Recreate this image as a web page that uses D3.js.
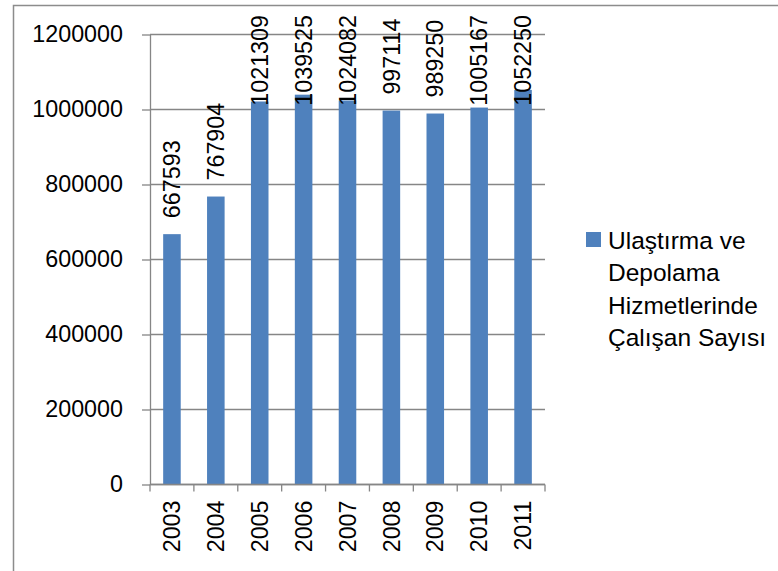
<!DOCTYPE html>
<html>
<head>
<meta charset="utf-8">
<script src="https://cdn.jsdelivr.net/npm/d3@7"></script>
<style>
  body { margin: 0; background: #fff; }
  svg text { font-family: 'Liberation Sans', Arial, sans-serif; fill: #000; }
  .grid line { stroke: #868686; stroke-width: 1.3; }
  .axis path, .axis line { stroke: #868686; stroke-width: 1.3; }
</style>
</head>
<body>
<div id="chart"></div>
<script>
const years = ['2003', '2004', '2005', '2006', '2007', '2008', '2009', '2010', '2011']
const workers = [667593, 767904, 1021309, 1039525, 1024082, 997114, 989250, 1005167, 1052250]
const yTicks = [0, 200000, 400000, 600000, 800000, 1000000, 1200000]
const legendLines = ['Ulaştırma ve', 'Depolama', 'Hizmetlerinde', 'Çalışan Sayısı']

const W = 778, H = 571
const margin = { left: 150, top: 34.5, right: 233, bottom: 86.5 }
const width = W - margin.left - margin.right
const height = H - margin.top - margin.bottom

const svg = d3.select('#chart')
  .append('svg')
  .attr('width', W)
  .attr('height', H)

// chart border (cropped on right and bottom)
svg.append('path')
  .attr('d', 'M13.5,' + H + 'V5.5H' + W)
  .attr('fill', 'none')
  .attr('stroke', '#8c8c8c')
  .attr('stroke-width', 1.5)

const g = svg.append('g')
  .attr('transform', 'translate(' + margin.left + ',' + margin.top + ')')

const x = d3.scaleBand().domain(years).range([0, width]).paddingInner(0.6).paddingOuter(0.3)
const y = d3.scaleLinear().domain([0, 1200000]).range([height, 0])

// gridlines
g.append('g').attr('class', 'grid')
  .selectAll('line')
  .data(yTicks)
  .enter()
    .append('line')
    .attr('x1', 0)
    .attr('x2', width)
    .attr('y1', d => y(d))
    .attr('y2', d => y(d))

// y axis
const yAxis = g.append('g').attr('class', 'axis')
  .call(d3.axisLeft(y).tickValues(yTicks).tickSize(8).tickSizeOuter(0).tickPadding(19).tickFormat(d3.format('d')))
yAxis.selectAll('text').style('font-size', '23.3px')

// bars
g.selectAll('.bar')
  .data(workers)
  .enter()
    .append('rect')
    .attr('class', 'bar')
    .attr('x', (d, i) => x(years[i]))
    .attr('width', x.bandwidth())
    .attr('y', d => y(d))
    .attr('height', d => height - y(d))
    .attr('fill', '#4f81bd')

// x axis line and boundary ticks
const step = x.step()
const xAxis = g.append('g').attr('class', 'axis')
  .attr('transform', 'translate(0,' + height + ')')
xAxis.append('line').attr('x1', 0).attr('x2', width)
xAxis.selectAll('.tick')
  .data(d3.range(years.length + 1))
  .enter()
    .append('line')
    .attr('x1', i => i * step)
    .attr('x2', i => i * step)
    .attr('y1', 0)
    .attr('y2', 7)
xAxis.selectAll('.xlabel')
  .data(years)
  .enter()
    .append('text')
    .attr('class', 'xlabel')
    .attr('transform', d => 'translate(' + (x(d) + x.bandwidth() / 2) + ',16) rotate(-90)')
    .attr('text-anchor', 'end')
    .attr('dy', '0.35em')
    .style('font-size', '23.3px')
    .text(d => d)

// value labels, pushed down when they would leave the chart
g.selectAll('.value')
  .data(workers)
  .enter()
    .append('text')
    .attr('class', 'value')
    .attr('text-anchor', 'start')
    .attr('dy', '0.35em')
    .style('font-size', '23.3px')
    .text(d => d)
    .each(function (d, i) {
      const len = this.getComputedTextLength()
      const bottom = Math.max(y(d) - 16, 15 - margin.top + len)
      d3.select(this).attr('transform', 'translate(' + (x(years[i]) + x.bandwidth() / 2) + ',' + bottom + ') rotate(-90)')
    })

// legend
const legend = svg.append('g').attr('transform', 'translate(586,232)')
legend.append('rect')
  .attr('width', 15)
  .attr('height', 15)
  .attr('fill', '#4f81bd')
legend.selectAll('text')
  .data(legendLines)
  .enter()
    .append('text')
    .attr('x', 22)
    .attr('y', (d, i) => 17 + i * 32.3)
    .style('font-size', '24.5px')
    .text(d => d)
</script>
</body>
</html>
